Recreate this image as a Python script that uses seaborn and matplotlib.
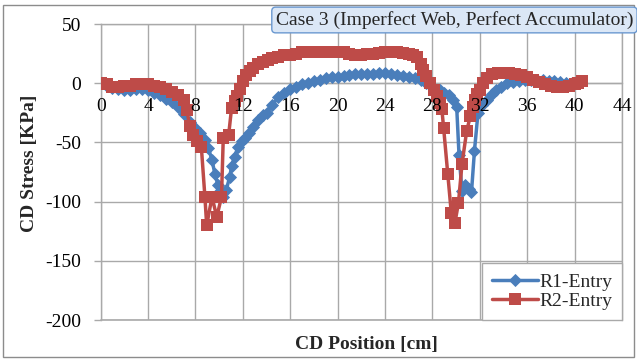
import numpy as np
import pandas as pd
import matplotlib
matplotlib.use("Agg")
import matplotlib.pyplot as plt
import seaborn as sns
from matplotlib.patches import Rectangle
from matplotlib.transforms import offset_copy

# CD stress profiles across the web (position in cm, stress in kPa)
r1_pos = [0, 0.5, 1, 1.5, 2, 2.5, 3, 3.5, 4, 4.5, 5, 5.5, 6, 6.5, 7, 7.5, 8.0, 8.4,
          8.8, 9.1, 9.4, 9.65, 9.9, 10.1, 10.35, 10.6, 10.9, 11.05, 11.3, 11.6, 11.9,
          12.2, 12.5, 12.9, 13.3, 13.7, 14.0, 14.5, 15.0, 15.5, 16.0, 16.5, 17, 17.5,
          18, 18.5, 19, 19.5, 20, 20.5, 21, 21.5, 22, 22.5, 23, 23.5, 24, 24.5, 25,
          25.5, 26, 26.5, 27, 27.5, 28, 28.6, 29.0, 29.4, 29.75, 30.05, 30.25, 30.5,
          30.75, 31.05, 31.3, 31.55, 31.85, 32.2, 32.6, 33.0, 33.4, 33.8, 34.3, 34.8,
          35.3, 35.8, 36.3, 36.8, 37.3, 37.8, 38.3, 38.8, 39.3, 39.8, 40.3]
r1_stress = [0, -2, -4, -5, -6, -6, -5, -5, -6, -8, -10, -13, -16, -20, -26, -33, -38, -42,
             -48, -55, -65, -77, -86, -91, -96, -90, -79, -70, -62, -54, -49,
             -46, -42, -37, -31, -27, -25, -18, -12, -8, -5, -3, -1, 0.5,
             1.5, 2.5, 4, 5, 5.5, 6, 7, 7.5, 7.5, 8, 8, 8.5, 9, 8, 7,
             6, 5, 4, 2.5, 0, -3, -6, -8, -10, -14, -20, -61, -91,
             -86, -89, -92, -57, -25, -18, -14, -9, -6, -3, 0, 1,
             2, 3, 3, 3, 2.5, 2, 1.5, 1, 0.5, 0, 0.5]

r2_pos = [0, 0.5, 1, 1.5, 2, 2.5, 3, 3.5, 4, 4.5, 5, 5.5, 6, 6.5, 7, 7.3, 7.5, 7.8,
          8.1, 8.5, 8.8, 8.95, 9.4, 9.8, 10.2, 10.35, 10.8, 11.05, 11.3, 11.5, 11.75,
          12.0, 12.3, 12.6, 12.9, 13.3, 13.7, 14.1, 14.5, 15.0, 15.5, 16, 16.5, 17,
          17.5, 18, 18.5, 19, 19.5, 20, 20.5, 21, 21.5, 22, 22.5, 23, 23.5, 24, 24.5,
          25, 25.5, 26, 26.4, 26.7, 27.0, 27.2, 27.5, 27.8, 28.1, 28.35, 28.6, 28.8,
          28.95, 29.3, 29.6, 29.9, 30.2, 30.5, 30.9, 31.2, 31.4, 31.6, 31.8, 32.0,
          32.3, 32.6, 33.0, 33.5, 34, 34.5, 35, 35.5, 36, 36.5, 37, 37.5, 38, 38.5,
          39, 39.5, 40, 40.3, 40.6]
r2_stress = [0, -1, -3, -3, -2.5, -2, -1, -1, -1, -2, -3, -5, -7, -10, -14, -23, -36, -44,
             -49, -54, -96, -120, -96, -113, -96, -46, -44, -21, -15, -11, -5,
             2, 7, 10, 13, 16, 18, 20, 21, 22.5, 23.5, 24, 25, 26,
             26.5, 26.5, 26.5, 26.5, 26.5, 26.5, 26, 25, 24, 24, 24.5, 25, 25.5, 26, 26,
             26, 25.5, 25, 23.5, 22, 16, 11, 6, 0, -6, -11, -17, -22,
             -38, -77, -110, -118, -101, -68, -40, -28, -20, -14, -9, -6,
             0, 4, 8, 9, 9, 9, 8, 7, 5, 3, 1, -1, -2, -3,
             -3, -2, -1, 0, 2]

series_names = ["R1-Entry", "R2-Entry"]
series_colors = ["#4A7EBB", "#BE4B48"]
x_ticks = list(range(0, 45, 4))
y_ticks = [50, 0, -50, -100, -150, -200]
chart_title = "Case 3 (Imperfect Web, Perfect Accumulator)"
x_label = "CD Position [cm]"
y_label = "CD Stress [KPa]"

sns.set_theme(style="white")
plt.rcParams["font.family"] = ["Liberation Serif", "DejaVu Serif"]

grid_gray = "#a9a9a9"
fs = 14

fig = plt.figure(figsize=(6.37, 3.59), dpi=100)
ax = fig.add_axes([0.158, 0.1086, 0.8184, 0.8245])

df1 = pd.DataFrame({"pos": r1_pos, "stress": r1_stress})
df2 = pd.DataFrame({"pos": r2_pos, "stress": r2_stress})

sns.lineplot(data=df1, x="pos", y="stress", ax=ax, sort=False, color=series_colors[0],
             lw=2.5, marker="D", markersize=6, markeredgewidth=0.6,
             markeredgecolor=series_colors[0], label=series_names[0], zorder=3)
sns.lineplot(data=df2, x="pos", y="stress", ax=ax, sort=False, color=series_colors[1],
             lw=2.5, marker="s", markersize=8.5, markeredgewidth=0,
             label=series_names[1], zorder=4)

ax.set_xlim(0, 44)
ax.set_ylim(-200, 50)
ax.set_xticks(x_ticks)
ax.set_yticks(y_ticks)
ax.set_yticklabels([str(t) for t in y_ticks])
ax.grid(True, color=grid_gray, lw=1)
ax.set_axisbelow(True)
ax.set_xlabel("")
ax.set_ylabel("")

for side in ["left", "right", "top", "bottom"]:
    ax.spines[side].set_color(grid_gray)
    ax.spines[side].set_linewidth(1)
ax.spines["bottom"].set_position(("data", 0))
ax.axhline(-200, color=grid_gray, lw=1.2, clip_on=False, zorder=1)

ax.tick_params(axis="y", direction="out", length=5, width=1, color=grid_gray,
               pad=9, labelsize=fs, left=True)
ax.tick_params(axis="x", length=0, labelbottom=False)
for lbl in ax.get_yticklabels():
    lbl.set_color("black")

# category labels along the zero line, drawn above the data
label_tr = offset_copy(ax.transData, fig=fig, x=0, y=-11, units="points")
for t in x_ticks:
    ax.text(t, 0, str(t), transform=label_tr, ha="center", va="top",
            fontsize=fs, color="black", zorder=8, clip_on=False)

leg = ax.legend(loc="lower right", frameon=True, fancybox=False, edgecolor=grid_gray,
                facecolor="white", framealpha=1, borderaxespad=0, fontsize=fs,
                handlelength=2.4, handletextpad=0.05, borderpad=0.5, labelspacing=0.1)
leg.get_frame().set_linewidth(1)
leg.set_zorder(9)

fig.text(0.047, 0.546, y_label, rotation=90, ha="center", va="center",
         fontsize=fs, fontweight="bold")
fig.text(0.575, 0.039, x_label, ha="center", va="center",
         fontsize=fs, fontweight="bold")

fig.text(0.994, 1 - 20 / 359, chart_title, ha="right", va="center", fontsize=fs,
         bbox=dict(boxstyle="round,pad=0.2", fc="#dbe7f6", ec="#6a98d0", lw=1),
         zorder=10)

fig.add_artist(Rectangle((3 / 637, 1 - 357 / 359), 631 / 637, 352 / 359,
                         transform=fig.transFigure, fill=False, ec="#8c8c8c", lw=1))

fig.savefig("out.png", dpi=100)
